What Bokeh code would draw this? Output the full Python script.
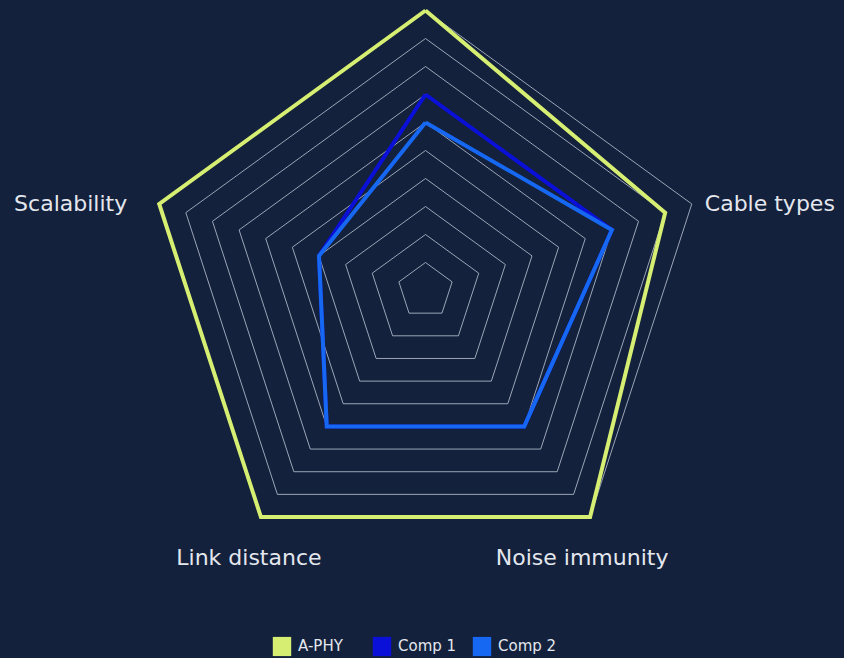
import math
from bokeh.plotting import figure
from bokeh.models import Range1d, Legend, LegendItem, ColumnDataSource
from bokeh.core.properties import value
from bokeh.embed import file_html
from bokeh.resources import INLINE

# ---- data ----
categories = ["", "Cable types", "Noise immunity", "Link distance", "Scalability"]
series_names = ["A-PHY", "Comp 1", "Comp 2"]
aphy = [10, 9, 10, 10, 10]
comp1 = [7, 7, 6, 6, 4]
comp2 = [6, 7, 6, 6, 4]
grid_levels = [1, 2, 3, 4, 5, 6, 7, 8, 9, 10]
max_value = 10

# ---- styles ----
BG = "#13213c"
GRID = "#b4bccb"
TXT = "#e4e7ee"
colors = ["#d6ee72", "#0a10d8", "#1668f2"]
UNIT = 28.0  # px per unit
FONT = "DejaVu Sans"
W, H = 844, 658

n = len(categories)
angles = [math.pi / 2 - 2 * math.pi * i / n for i in range(n)]


def poly(vals):
    xs = [v * UNIT * math.cos(a) for v, a in zip(vals, angles)]
    ys = [v * UNIT * math.sin(a) for v, a in zip(vals, angles)]
    return xs + [xs[0]], ys + [ys[0]]


p = figure(width=W, height=H, output_backend="svg", toolbar_location=None,
           x_range=Range1d(-425, W - 425), y_range=Range1d(290 - H, 290),
           min_border=0, min_border_left=0, min_border_right=0,
           min_border_top=0, min_border_bottom=0)
p.xaxis.visible = False
p.yaxis.visible = False
p.grid.visible = False
p.outline_line_color = None
p.background_fill_color = BG
p.border_fill_color = BG

# grid rings
for lv in grid_levels:
    gx, gy = poly([lv] * n)
    p.line(gx, gy, line_color=GRID, line_width=1, line_alpha=0.85)

# series
for name, vals, col in zip(series_names, [aphy, comp1, comp2], colors):
    sx, sy = poly(vals)
    p.line(sx, sy, line_color=col, line_width=4, line_join="miter")

# legend swatches (not drawn in the plot area)
nan = float("nan")
items = []
for name, col in zip(series_names, colors):
    r = p.quad(left=[nan], right=[nan], top=[nan], bottom=[nan],
               fill_color=col, line_color=None)
    items.append(LegendItem(label=name, renderers=[r]))

legend = Legend(items=items, orientation="horizontal", location=(270, 0),
                background_fill_alpha=0, border_line_color=None,
                label_text_color=TXT, label_text_font=FONT,
                label_text_font_size="15px", glyph_width=23, glyph_height=24,
                label_standoff=5, label_width=72, spacing=0, padding=0, margin=0)
p.add_layout(legend, "center")

# axis labels
lab_idx = [1, 2, 3, 4]
lab_align = ["left", "center", "center", "right"]
lab_xoff = [13, -8, -12, -32]
lab_yoff = [0, 40, 40, 0]
lx = [max_value * UNIT * math.cos(angles[i]) for i in lab_idx]
ly = [max_value * UNIT * math.sin(angles[i]) for i in lab_idx]
src = ColumnDataSource(dict(x=lx, y=ly, text=[categories[i] for i in lab_idx],
                            align=lab_align, xo=lab_xoff, yo=lab_yoff))
p.text(x="x", y="y", text="text", source=src, text_align="align",
       text_baseline="middle", x_offset="xo", y_offset="yo",
       text_font=value(FONT), text_font_size="22px", text_color=TXT)

html = file_html(p, INLINE)
html = html.replace("<head>", "<head><style>body{background:%s;}</style>" % BG, 1)
open("out.html", "w").write(html)
